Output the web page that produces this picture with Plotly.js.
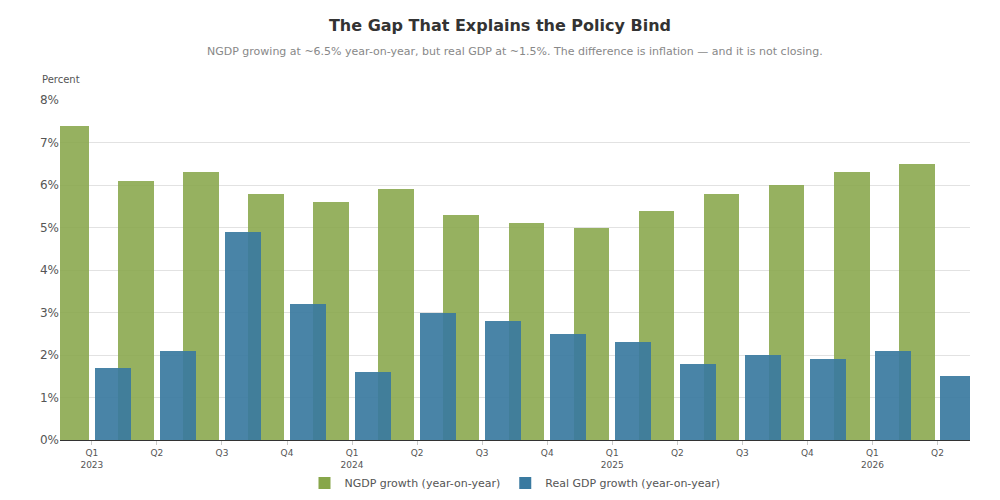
<!DOCTYPE html>
<html>
<head>
<meta charset="utf-8">
<script src="https://cdn.plot.ly/plotly-3.0.1.min.js"></script>
<style>body{margin:0;background:#fff}#chart{width:1000px;height:500px}</style>
</head>
<body>
<div id="chart"></div>
<script>
const quarters = ["Q1<br>2023", "Q2", "Q3", "Q4", "Q1<br>2024", "Q2", "Q3", "Q4",
  "Q1<br>2025", "Q2", "Q3", "Q4", "Q1<br>2026", "Q2"];
const ngdp = [7.4, 6.1, 6.3, 5.8, 5.6, 5.9, 5.3, 5.1, 5.0, 5.4, 5.8, 6.0, 6.3, 6.5];
const realGdp = [1.7, 2.1, 4.9, 3.2, 1.6, 3.0, 2.8, 2.5, 2.3, 1.8, 2.0, 1.9, 2.1, 1.5];

const idx = quarters.map((q, i) => i);

const traces = [
  {
    type: "bar",
    name: "NGDP growth (year-on-year)",
    x: idx.map(i => i - 0.32),
    y: ngdp,
    width: 0.55,
    marker: { color: "#87a64a", opacity: 0.88 },
    hovertemplate: "%{y:.1f}%<extra></extra>"
  },
  {
    type: "bar",
    name: "Real GDP growth (year-on-year)",
    x: idx.map(i => i + 0.32),
    y: realGdp,
    width: 0.55,
    marker: { color: "#3a7aa0", opacity: 0.92 },
    hovertemplate: "%{y:.1f}%<extra></extra>"
  }
];

const layout = {
  paper_bgcolor: "#fff",
  plot_bgcolor: "#fff",
  font: { family: "DejaVu Sans, sans-serif", color: "#555" },
  title: {
    text: "<b>The Gap That Explains the Policy Bind</b>",
    x: 0.5, y: 0.96, yanchor: "top",
    font: { size: 16, color: "#333" }
  },
  annotations: [
    {
      text: "NGDP growing at ~6.5% year-on-year, but real GDP at ~1.5%. The difference is inflation — and it is not closing.",
      xref: "paper", yref: "paper", x: 0.5, y: 1.144, yanchor: "middle", showarrow: false,
      font: { size: 11, color: "#888" }
    },
    {
      text: "Percent", xref: "paper", yref: "paper", x: -0.022, y: 1.06,
      xanchor: "left", yanchor: "middle", showarrow: false, font: { size: 10, color: "#555" }
    }
  ],
  margin: { l: 60, r: 30, t: 100, b: 60, autoexpand: false },
  barmode: "overlay",
  bargap: 0,
  showlegend: true,
  legend: {
    orientation: "h", x: 0.5, xanchor: "center",
    yref: "container", y: 0.005, yanchor: "bottom",
    font: { size: 11, color: "#555" }
  },
  xaxis: {
    range: [-0.49, 13.5],
    tickmode: "array",
    tickvals: idx,
    ticktext: quarters,
    tickfont: { size: 9, color: "#555" },
    showgrid: false,
    zeroline: false,
    showline: true,
    linecolor: "#333",
    ticks: "outside",
    ticklen: 4,
    tickcolor: "#ccc"
  },
  yaxis: {
    range: [0, 8],
    dtick: 1,
    ticksuffix: "%",
    tickfont: { size: 12, color: "#555" },
    gridcolor: "#e2e2e2",
    zeroline: false
  }
};

Plotly.newPlot("chart", traces, layout, { displayModeBar: false });
</script>
</body>
</html>
